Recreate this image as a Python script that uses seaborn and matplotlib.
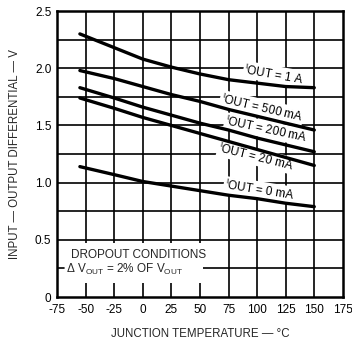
import matplotlib
matplotlib.use("Agg")
import matplotlib.pyplot as plt
import seaborn as sns
import pandas as pd
from matplotlib.patches import Rectangle

# Junction temperature (°C) at which each curve is sampled
temperature = [-55, -25, 0, 25, 50, 75, 100, 125, 150]

# Dropout voltage (V) for each load current
iout_1a = [2.30, 2.18, 2.08, 2.01, 1.95, 1.90, 1.87, 1.84, 1.83]
iout_500ma = [1.98, 1.91, 1.84, 1.77, 1.71, 1.64, 1.58, 1.52, 1.46]
iout_200ma = [1.83, 1.74, 1.66, 1.59, 1.52, 1.46, 1.39, 1.33, 1.27]
iout_20ma = [1.74, 1.65, 1.57, 1.50, 1.43, 1.36, 1.29, 1.22, 1.15]
iout_0ma = [1.14, 1.07, 1.01, 0.97, 0.93, 0.89, 0.86, 0.82, 0.79]

series_names = ["1 A", "500 mA", "200 mA", "20 mA", "0 mA"]
series_values = [iout_1a, iout_500ma, iout_200ma, iout_20ma, iout_0ma]

x_ticks = [-75, -50, -25, 0, 25, 50, 75, 100, 125, 150, 175]
y_ticks = [0, 0.5, 1.0, 1.5, 2.0, 2.5]
y_tick_labels = ["0", "0.5", "1.0", "1.5", "2.0", "2.5"]

# label placement: (temperature, voltage, rotation)
label_spots = {
    "1 A": (115, 1.945, -10),
    "500 mA": (104, 1.655, -13),
    "200 mA": (108, 1.465, -12),
    "20 mA": (99, 1.225, -14),
    "0 mA": (102, 0.935, -9),
}

rows = []
for name, vals in zip(series_names, series_values):
    for t, v in zip(temperature, vals):
        rows.append({"temp": t, "volt": v, "iout": name})
df = pd.DataFrame(rows)

sns.set_style("white")
plt.rcParams["font.family"] = ["Liberation Sans", "DejaVu Sans"]
plt.rcParams["axes.unicode_minus"] = False
plt.rcParams["mathtext.fontset"] = "custom"
plt.rcParams["mathtext.rm"] = "Liberation Sans"
plt.rcParams["mathtext.it"] = "Liberation Sans"

fig = plt.figure(figsize=(3.52, 3.45), dpi=100)
ax = fig.add_axes([0.162, 0.139, 0.812, 0.829])

ax.set_xlim(-75, 175)
ax.set_ylim(0, 2.5)

# grid every 25 °C and every 0.25 V
for xv in range(-50, 175, 25):
    ax.axvline(xv, color="black", lw=1.2, zorder=1)
for yv in [0.25, 0.5, 0.75, 1.0, 1.25, 1.5, 1.75, 2.0, 2.25]:
    ax.axhline(yv, color="black", lw=1.2, zorder=1)

sns.lineplot(data=df, x="temp", y="volt", units="iout", estimator=None,
             color="black", lw=2.4, ax=ax, zorder=3, legend=False)

text_kw = dict(fontsize=8.5, color="black", ha="center", va="center",
               rotation_mode="anchor", zorder=2.8,
               bbox=dict(facecolor="white", edgecolor="none", pad=0.8))
for name in series_names:
    tx, ty, rot = label_spots[name]
    ax.text(tx, ty, r"$^{\mathrm{I}}$OUT = " + name, rotation=rot, **text_kw)

# conditions note
ax.add_patch(Rectangle((-75, 0.12), 128, 0.35, facecolor="white",
                       edgecolor="none", zorder=2))
ax.plot([-75, -69], [0.25, 0.25], color="black", lw=1.2, zorder=2.5)
ax.text(-63, 0.37, "DROPOUT CONDITIONS", fontsize=8.5, ha="left",
        va="center", zorder=4)
ax.text(-67, 0.24, r"$\Delta$ V$_{\mathrm{OUT}}$ = 2% OF V$_{\mathrm{OUT}}$",
        fontsize=8.5, ha="left", va="center", zorder=4)

ax.set_xticks(x_ticks)
ax.set_yticks(y_ticks)
ax.set_yticklabels(y_tick_labels)
ax.tick_params(axis="both", length=0, labelsize=8.5, colors="black")
ax.tick_params(axis="x", pad=5)
ax.tick_params(axis="y", pad=4)

for sp in ax.spines.values():
    sp.set_linewidth(1.8)
    sp.set_color("black")
    sp.set_zorder(5)

ax.set_xlabel("JUNCTION TEMPERATURE — °C", fontsize=8.3, labelpad=9)
ax.set_ylabel("INPUT — OUTPUT DIFFERENTIAL — V", fontsize=8.3, labelpad=10)

fig.savefig("out.png", dpi=100, facecolor="white")
